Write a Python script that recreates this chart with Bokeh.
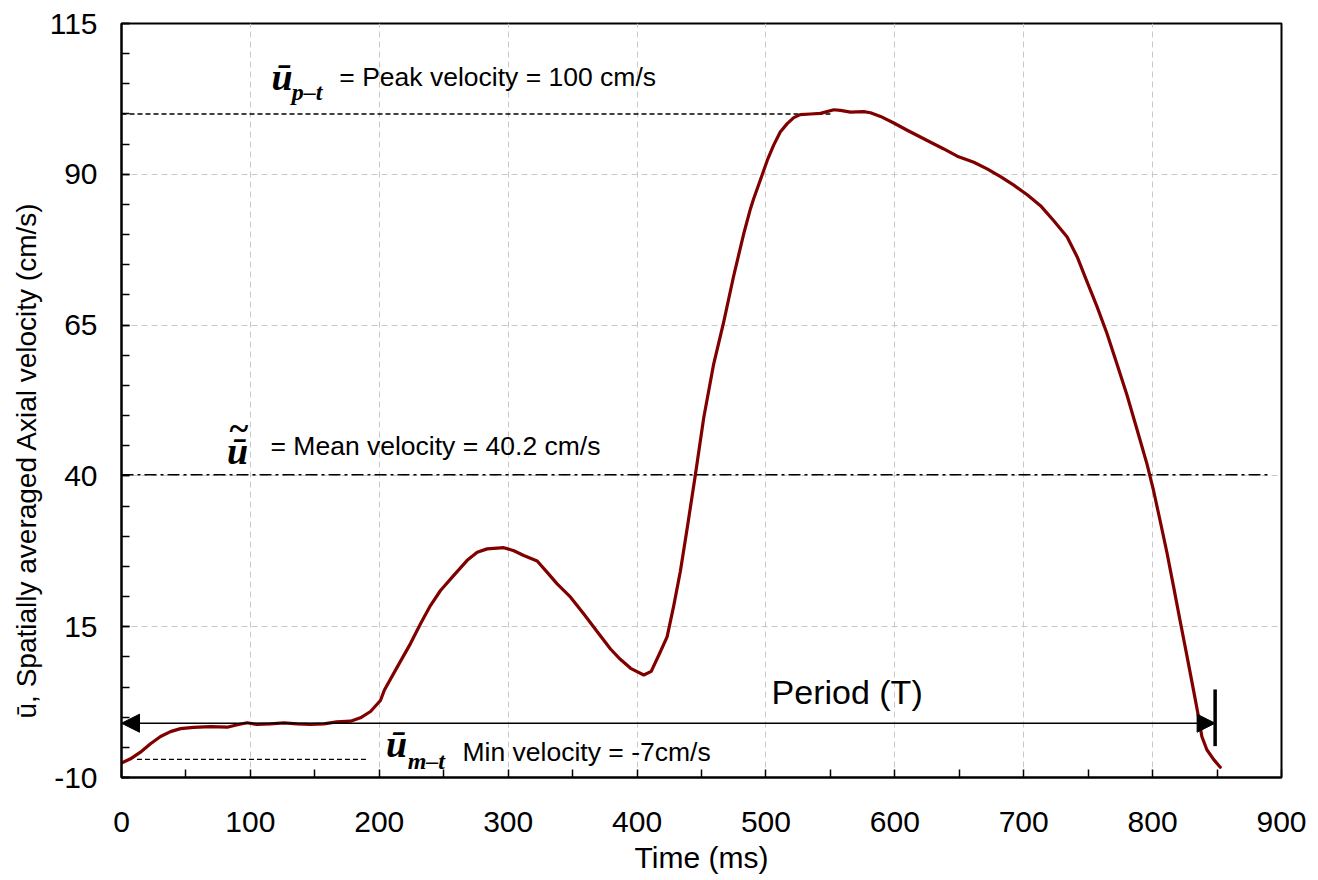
from bokeh.plotting import figure
from bokeh.models import Range1d, FixedTicker, Label, Arrow, NormalHead, Title
from bokeh.embed import file_html
from bokeh.resources import INLINE

# ---- data ----
time_ms = [0, 7, 14.7, 22.5, 30.3, 38, 45.8, 56, 69, 82, 90, 97.5, 105, 115.6, 126,
           136, 146.6, 157, 167, 177.7, 185.4, 193.2, 200.9, 204, 213.9, 224.2, 232,
           239.7, 247.5, 257.8, 268.2, 276, 283.7, 296.6, 304.4, 312.1, 322.5, 330.3,
           338, 348.4, 358.7, 369, 379.4, 387, 395, 405.2, 411, 418, 423.3, 428.4,
           433.6, 438.8, 445.2, 451.7, 459.4, 467.2, 474.9, 482.7, 488, 490.4, 498.2,
           501, 505.9, 511.1, 516.5, 521.6, 526.6, 534.6, 542.3, 552.7, 557.8, 565.6,
           575.9, 581.1, 588.9, 599.2, 609.6, 625.1, 638, 648.4, 661.3, 671.6, 682,
           692.3, 702.7, 713, 723.3, 733.7, 741.5, 748, 756.8, 764.6, 772.4, 780.1,
           787.9, 795.6, 800.8, 806, 811.1, 816.3, 821.4, 826.6, 831.8, 835.7, 838.2,
           842.1, 847.3, 852.5]
velocity = [-7.6, -6.9, -5.8, -4.4, -3.2, -2.4, -1.9, -1.7, -1.55, -1.66, -1.26, -0.93,
            -1.2, -1.1, -0.93, -1.1, -1.2, -1.1, -0.77, -0.67, -0.1, 0.94, 2.77, 4.5,
            8.3, 12.2, 15.5, 18.5, 21.0, 23.5, 26.0, 27.35, 27.9, 28.1, 27.6, 26.8,
            25.9, 24.0, 22.1, 19.9, 17.1, 14.2, 11.3, 9.6, 8.1, 7.0, 7.6, 10.8, 13.3,
            18.4, 24.2, 31.2, 40.1, 49.6, 58.5, 65.5, 73.1, 80.1, 84.3, 85.9, 90.6,
            92.3, 94.8, 97.0, 98.4, 99.4, 99.9, 100.0, 100.1, 100.7, 100.6, 100.3,
            100.4, 100.2, 99.6, 98.5, 97.3, 95.6, 94.2, 93.0, 92.0, 90.9, 89.6, 88.2,
            86.6, 84.8, 82.3, 79.6, 76.3, 72.8, 68.1, 63.6, 58.5, 53.4, 47.7, 42.0,
            37.5, 32.4, 27.3, 21.6, 15.9, 10.2, 4.4, 0.0, -3.2, -5.4, -7.0, -8.3]

x_ticks = [0, 100, 200, 300, 400, 500, 600, 700, 800, 900]
x_minor = [50, 150, 250, 350, 450, 550, 650, 750, 850]
y_ticks = [-10, 15, 40, 65, 90, 115]
y_minor = [v for v in range(-10, 116, 5)]
y_tick_labels = {-10: "-10", 15: "15", 40: "40", 65: "65", 90: "90", 115: "115"}

peak_velocity = 100
mean_velocity = 40.2
min_velocity = -7
peak_line_x = [0, 550]
mean_line_x = [0, 890]
min_line_x = [12, 192]
period_start = 0
period_end = 848.5
period_y = -1
period_bar = [-4.8, 4.6]

SANS = "Liberation Sans"
SERIF = "Liberation Serif"

p = figure(width=1310, height=878, output_backend="svg", toolbar_location=None,
           x_range=Range1d(0, 900), y_range=Range1d(-10, 115),
           min_border_left=121, min_border_right=29, min_border_top=23, min_border_bottom=101)

p.outline_line_color = "black"
p.outline_line_width = 2
p.background_fill_color = "white"
p.border_fill_color = "white"

p.xaxis.ticker = FixedTicker(ticks=x_ticks, minor_ticks=x_minor)
p.yaxis.ticker = FixedTicker(ticks=y_ticks, minor_ticks=y_minor)
p.yaxis.major_label_overrides = y_tick_labels
for ax in (p.xaxis[0], p.yaxis[0]):
    ax.axis_line_color = "black"
    ax.axis_line_width = 2
    ax.major_tick_in = 8
    ax.major_tick_out = 0
    ax.minor_tick_in = 8
    ax.minor_tick_out = 0
    ax.major_tick_line_color = "black"
    ax.minor_tick_line_color = "black"
    ax.major_tick_line_width = 1.5
    ax.minor_tick_line_width = 1.5
    ax.major_label_text_font = SANS
    ax.major_label_text_font_size = "30px"
    ax.major_label_text_color = "black"
p.xaxis.major_label_standoff = 34
p.yaxis.major_label_standoff = 24
p.xaxis.axis_label = "Time (ms)"
p.xaxis.axis_label_text_font = SANS
p.xaxis.axis_label_text_font_size = "30px"
p.xaxis.axis_label_text_font_style = "normal"
p.xaxis.axis_label_text_color = "black"
p.xaxis.axis_label_standoff = 6

ytitle = Title(text="ū, Spatially averaged Axial velocity (cm/s)", align="left", offset=59,
               text_font=SANS, text_font_size="28px", text_font_style="normal",
               text_color="black", standoff=9)
p.add_layout(ytitle, "left")

p.grid.grid_line_color = "#c8c8c8"
p.grid.grid_line_dash = "6 4"
p.grid.grid_line_width = 1

# reference lines
p.line(peak_line_x, [peak_velocity, peak_velocity], line_color="black", line_width=1.3, line_dash="5 3")
p.line(mean_line_x, [mean_velocity, mean_velocity], line_color="black", line_width=1.5, line_dash="12 4 3 4")
p.line(min_line_x, [min_velocity, min_velocity], line_color="black", line_width=1.3, line_dash="5 3")

# period arrow
p.add_layout(Arrow(start=NormalHead(size=18, fill_color="black", line_color="black"),
                   end=NormalHead(size=18, fill_color="black", line_color="black"),
                   x_start=period_start, y_start=period_y, x_end=period_end, y_end=period_y,
                   line_color="black", line_width=1.5))
p.segment(x0=[period_end], y0=[period_bar[0]], x1=[period_end], y1=[period_bar[1]],
          line_color="black", line_width=3.5)

# velocity curve
p.line(time_ms, velocity, line_color="#800000", line_width=3.2, line_join="round", line_cap="round")


def lab(x, y, text, size, font=SANS, style="normal", align="left", baseline="middle"):
    p.add_layout(Label(x=x, y=y, text=text, text_font=font, text_font_size=f"{size}px",
                       text_font_style=style, text_align=align, text_baseline=baseline,
                       text_color="black"))


# peak annotation
lab(124.5, 106.1, "ū", 38, SERIF, "bold italic", "center")
lab(132, 103.6, "p–t", 24, SERIF, "bold italic")
lab(169, 106.2, "= Peak velocity = 100 cm/s", 26.5)
# mean annotation
lab(90, 44.1, "ū", 38, SERIF, "bold italic", "center")
lab(91, 47.9, "~", 36, SERIF, "bold", "center")
lab(115.6, 44.9, "= Mean velocity = 40.2 cm/s", 26.5)
# min annotation
lab(213.4, -4.5, "ū", 38, SERIF, "bold italic", "center")
lab(222, -7.3, "m–t", 24, SERIF, "bold italic")
lab(264.6, -5.7, "Min velocity = -7cm/s", 26.5)
# period
lab(563, 4.1, "Period (T)", 34, align="center")

open("out.html", "w").write(file_html(p, INLINE))
